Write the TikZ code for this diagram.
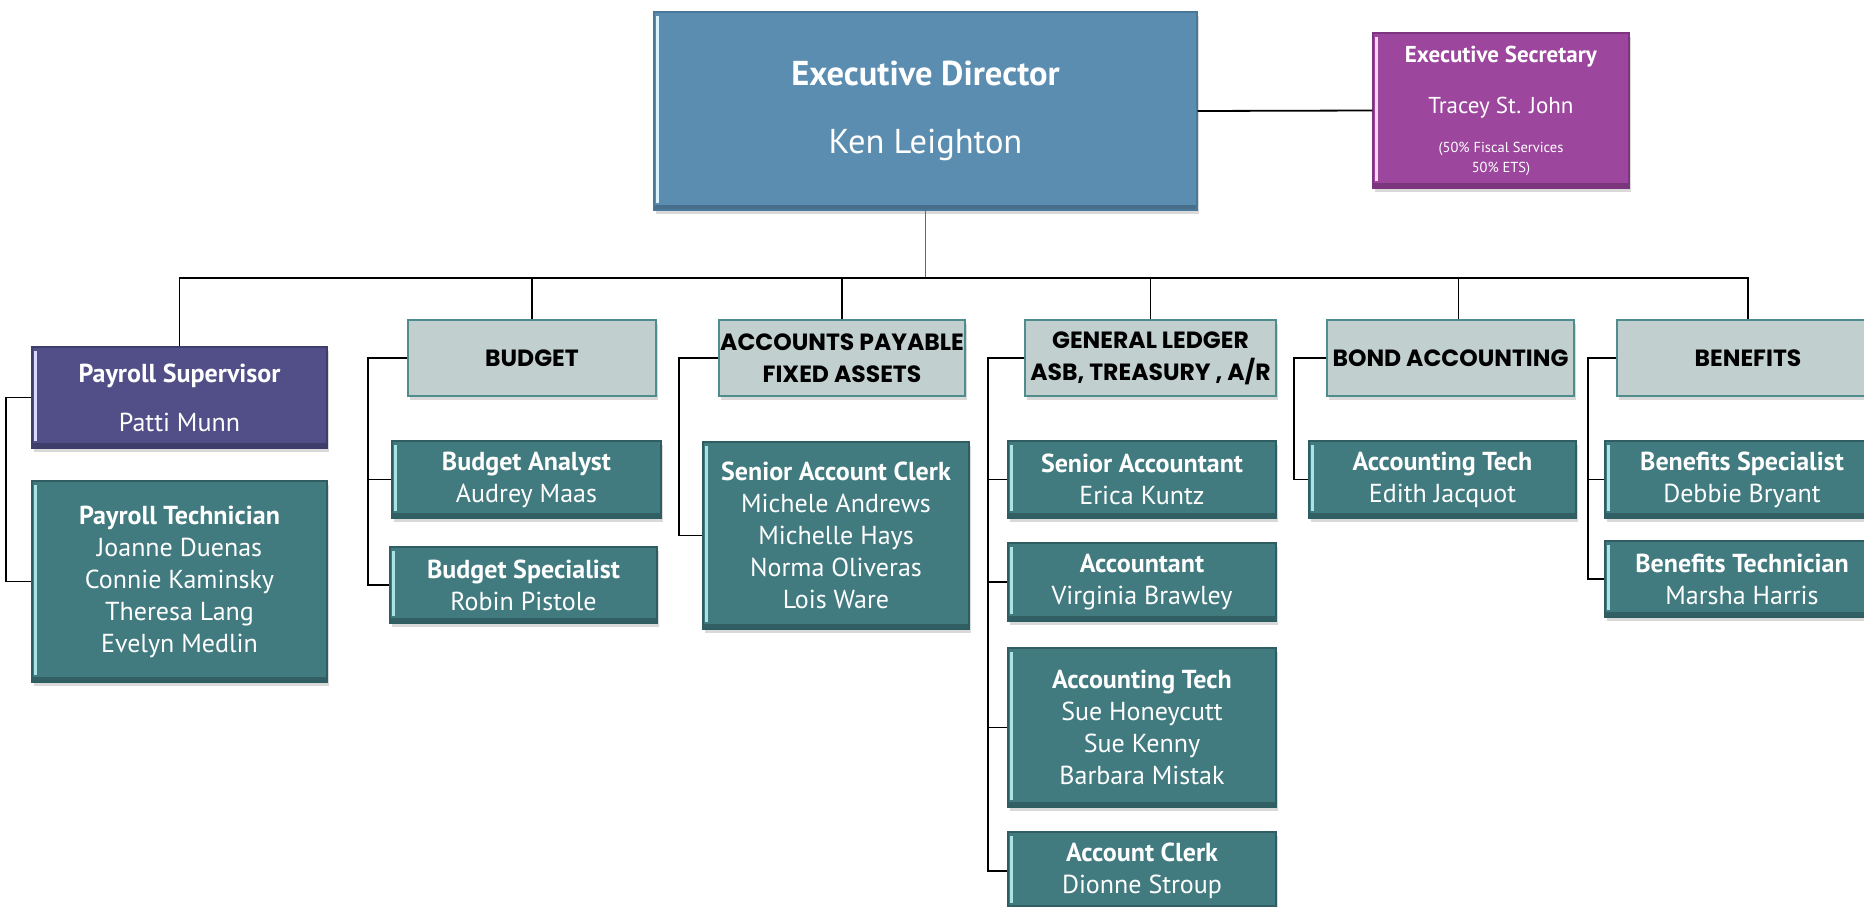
\documentclass[tikz,border=0pt]{standalone}
\usepackage{fontspec}
\setmainfont{PT Sans}
\newfontfamily\headfont{Poppins}
\usepackage{xcolor}
\usetikzlibrary{positioning,shadows,calc}

\definecolor{edblue}{HTML}{5B8DB1}
\definecolor{ededge}{HTML}{4A7898}
\definecolor{secpurple}{HTML}{9C469E}
\definecolor{secedge}{HTML}{7E3580}
\definecolor{supviolet}{HTML}{524F88}
\definecolor{supedge}{HTML}{3F3D6C}
\definecolor{tealbox}{HTML}{417B80}
\definecolor{tealedge}{HTML}{2F5E62}
\definecolor{headfill}{HTML}{C1CFCF}
\definecolor{headedge}{HTML}{4E8C8E}
\definecolor{bevlight}{HTML}{A8E4E6}
\definecolor{downline}{HTML}{6B5CA5}

\tikzset{
	bevelled/.style={path picture={
		\fill[black, opacity=.22] (path picture bounding box.south west) rectangle
			([yshift=5pt]path picture bounding box.south east);
		\draw[#1, line width=2.5pt]
			([xshift=3.5pt,yshift=-4pt]path picture bounding box.north west) --
			([xshift=3.5pt,yshift=7pt]path picture bounding box.south west);}},
	box/.style={rectangle, draw, line width=1.3pt, align=center, text=white, inner sep=0pt,
		drop shadow={opacity=.3, shadow xshift=1.5pt, shadow yshift=-4pt}},
	staff/.style={box, fill=tealbox, draw=tealedge, bevelled=bevlight,
		font=\fontsize{26}{32}\selectfont},
	head/.style={box, fill=headfill, draw=headedge, text=black,
		font=\headfont\bfseries\fontsize{23.5}{32}\selectfont},
	link/.style={line width=1.8pt, black},
}

\begin{document}
\begin{tikzpicture}[x=1pt, y=-1pt]
	\useasboundingbox (0,0) rectangle (1864,907);
	\clip (0,0) rectangle (1864,907);

	% top level
	\node[box, fill=edblue, draw=ededge, bevelled=cyan!15, minimum width=543pt,
		minimum height=198pt, font=\fontsize{34.5}{68}\selectfont] (ed) at (925.5,111)
		{\textbf{Executive Director}\\Ken Leighton};
	\node[box, fill=secpurple, draw=secedge, bevelled=magenta!15, minimum width=256pt,
		minimum height=155pt, font=\fontsize{23}{20}\selectfont] (sec) at (1501,110.5)
		{\textbf{Executive Secretary}\\[29pt]Tracey St. John\\[19pt]
		\fontsize{14.5}{20}\selectfont (50\% Fiscal Services\\\fontsize{14.5}{20}\selectfont 50\% ETS)};
	\coordinate (bus) at (925.5,278);

	% payroll
	\node[box, fill=supviolet, draw=supedge, bevelled=blue!15, minimum width=295pt,
		minimum height=101pt, font=\fontsize{26}{49}\selectfont] (psup) at (179.5,397.5)
		{\textbf{Payroll Supervisor}\\Patti Munn};
	\node[staff, minimum width=295pt, minimum height=201pt] (ptech) at (179.5,581.5)
		{\textbf{Payroll Technician}\\Joanne Duenas\\Connie Kaminsky\\Theresa Lang\\Evelyn Medlin};

	% budget
	\node[head, minimum width=248pt, minimum height=76pt] (bud) at (532,358) {BUDGET};
	\node[staff, minimum width=269pt, minimum height=77pt] (ban) at (526.5,479.5)
		{\textbf{Budget Analyst}\\Audrey Maas};
	\node[staff, minimum width=267pt, minimum height=76pt] (bsp) at (523.5,585)
		{\textbf{Budget Specialist}\\Robin Pistole};

	% accounts payable
	\node[head, minimum width=246pt, minimum height=76pt] (ap) at (842,358)
		{ACCOUNTS PAYABLE\\FIXED ASSETS};
	\node[staff, minimum width=266pt, minimum height=187pt] (sac) at (836,535.5)
		{\textbf{Senior Account Clerk}\\Michele Andrews\\Michelle Hays\\Norma Oliveras\\Lois Ware};

	% general ledger
	\node[head, minimum width=251pt, minimum height=76pt] (gl) at (1150.5,358)
		{GENERAL LEDGER\\ASB, TREASURY , A/R};
	\node[staff, minimum width=268pt, minimum height=77pt] (sa) at (1142,479.5)
		{\textbf{Senior Accountant}\\Erica Kuntz};
	\node[staff, minimum width=268pt, minimum height=78pt] (acc) at (1142,582)
		{\textbf{Accountant}\\Virginia Brawley};
	\node[staff, minimum width=268pt, minimum height=159pt] (gtech) at (1142,727.5)
		{\textbf{Accounting Tech}\\Sue Honeycutt\\Sue Kenny\\Barbara Mistak};
	\node[staff, minimum width=268pt, minimum height=78pt] (clerk) at (1142,871)
		{\textbf{Account Clerk}\\Dionne Stroup};

	% bond accounting
	\node[head, minimum width=247pt, minimum height=76pt] (bond) at (1450.5,358)
		{BOND ACCOUNTING};
	\node[staff, minimum width=267pt, minimum height=77pt] (btech) at (1442.5,479.5)
		{\textbf{Accounting Tech}\\Edith Jacquot};

	% benefits
	\node[head, minimum width=262pt, minimum height=76pt] (ben) at (1748,358) {BENEFITS};
	\node[staff, minimum width=274pt, minimum height=77pt] (bspec) at (1742,479.5)
		{\textbf{Benefits Specialist}\\Debbie Bryant};
	\node[staff, minimum width=274pt, minimum height=76pt] (btechn) at (1742,579)
		{\textbf{Benefits Technician}\\Marsha Harris};

	% connectors
	\draw[link] (ed.east) -- (sec.west);
	\draw[line width=1.4pt, downline] (ed.south) -- (bus);
	\draw[link] (psup.north) |- (ben.north |- bus) -- (ben.north);
	\foreach \n in {bud,ap,gl}
		\draw[link] (\n.north) -- (\n.north |- bus);
	\draw[link] ([xshift=8pt]bond.north) -- ([xshift=8pt]bond.north |- bus);

	\draw[link] (psup.west) -- ++(-25,0) |- (ptech.west);
	\foreach \n in {ban,bsp}
		\draw[link] (bud.west) -- ++(-39,0) |- (\n.west);
	\draw[link] (ap.west) -- ++(-39,0) |- (sac.west);
	\foreach \n in {sa,acc,gtech,clerk}
		\draw[link] (gl.west) -- ++(-36,0) |- (\n.west);
	\draw[link] (bond.west) -- ++(-32,0) |- (btech.west);
	\foreach \n in {bspec,btechn}
		\draw[link] (ben.west) -- ++(-28,0) |- (\n.west);
\end{tikzpicture}
\end{document}
